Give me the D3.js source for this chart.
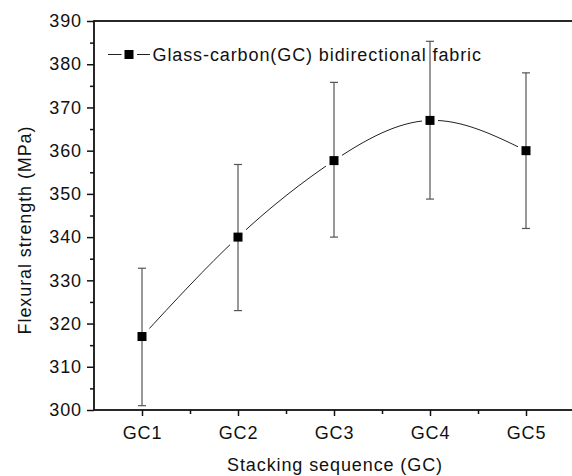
<!DOCTYPE html>
<html>
<head>
<meta charset="utf-8">
<script src="https://cdn.jsdelivr.net/npm/d3@7.9.0/dist/d3.min.js"></script>
<style>
  body { margin: 0; background: #fff; }
  svg { font-family: Arial, "Liberation Sans", sans-serif; }
  svg text { letter-spacing: 0.9px; }
  .axis text { font-size: 18px; fill: #111; }
  .axis line { stroke: #111; stroke-width: 1.5; }
  .axis path { display: none; }
</style>
</head>
<body>
<div id="chart"></div>
<script>
// data
const categories = ['GC1', 'GC2', 'GC3', 'GC4', 'GC5'];
const strength = [317, 340, 357.7, 367, 360];
const errLow = [301, 323, 340, 348.8, 342];
const errHigh = [332.8, 356.8, 375.8, 385.3, 378];
const yTicks = [300, 310, 320, 330, 340, 350, 360, 370, 380, 390];
const legendLabel = 'Glass-carbon(GC) bidirectional fabric';

const width = 572;
const height = 476;
const margin = { top: 21, right: -2, bottom: 66, left: 94 };

const svg = d3.select('#chart')
  .append('svg')
  .attr('width', width)
  .attr('height', height);

const points = categories.map((c, i) => ({
  name: c, idx: i + 1, value: strength[i], lo: errLow[i], hi: errHigh[i]
}));

const x = d3.scaleLinear()
  .domain([0.5, 5.5])
  .range([margin.left, width - margin.right]);

const y = d3.scaleLinear()
  .domain([300, 390])
  .range([height - margin.bottom, margin.top]);

// minor ticks (no labels)
svg.append('g')
  .attr('class', 'axis')
  .attr('transform', `translate(${margin.left},0)`)
  .call(d3.axisLeft(y).tickValues(yTicks.slice(0, -1).map(d => d + 5)).tickSize(4).tickFormat(''));

svg.append('g')
  .attr('class', 'axis')
  .attr('transform', `translate(0,${y(300)})`)
  .call(d3.axisBottom(x).tickValues([1.5, 2.5, 3.5, 4.5]).tickSize(4).tickFormat(''));

// major ticks
svg.append('g')
  .attr('class', 'axis')
  .attr('transform', `translate(${margin.left},0)`)
  .call(d3.axisLeft(y).tickValues(yTicks).tickSize(7).tickPadding(5));

svg.append('g')
  .attr('class', 'axis')
  .attr('transform', `translate(0,${y(300)})`)
  .call(d3.axisBottom(x).tickValues(points.map(d => d.idx)).tickSize(6).tickPadding(10)
    .tickFormat(d => categories[d - 1]));

// frame
svg.append('rect')
  .attr('x', margin.left)
  .attr('y', margin.top)
  .attr('width', x(5.5) - margin.left)
  .attr('height', y(300) - margin.top)
  .attr('fill', 'none')
  .attr('stroke', '#111')
  .attr('stroke-width', 1.8);

// smooth line
const line = d3.line()
  .x(d => x(d.idx))
  .y(d => y(d.value))
  .curve(d3.curveNatural);

svg.append('path')
  .datum(points)
  .attr('d', line)
  .attr('fill', 'none')
  .attr('stroke', '#222')
  .attr('stroke-width', 1);

// gaps in the line around each symbol
svg.append('g')
  .selectAll('rect')
  .data(points)
  .join('rect')
  .attr('x', d => x(d.idx) - 8)
  .attr('y', d => y(d.value) - 8)
  .attr('width', 16)
  .attr('height', 16)
  .attr('fill', '#fff');

// error bars
const eb = svg.append('g')
  .attr('stroke', '#555')
  .attr('stroke-width', 1.2);

eb.selectAll('line.v')
  .data(points)
  .join('line')
  .attr('class', 'v')
  .attr('x1', d => x(d.idx))
  .attr('x2', d => x(d.idx))
  .attr('y1', d => y(d.lo))
  .attr('y2', d => y(d.hi));

eb.selectAll('line.cap-hi')
  .data(points)
  .join('line')
  .attr('class', 'cap-hi')
  .attr('x1', d => x(d.idx) - 4)
  .attr('x2', d => x(d.idx) + 4)
  .attr('y1', d => y(d.hi))
  .attr('y2', d => y(d.hi));

eb.selectAll('line.cap-lo')
  .data(points)
  .join('line')
  .attr('class', 'cap-lo')
  .attr('x1', d => x(d.idx) - 4)
  .attr('x2', d => x(d.idx) + 4)
  .attr('y1', d => y(d.lo))
  .attr('y2', d => y(d.lo));

// symbols
svg.append('g')
  .selectAll('rect')
  .data(points)
  .join('rect')
  .attr('x', d => x(d.idx) - 4.5)
  .attr('y', d => y(d.value) - 4.5)
  .attr('width', 9)
  .attr('height', 9)
  .attr('fill', '#000');

// legend
const lg = svg.append('g').attr('transform', 'translate(108,54.5)');
lg.append('line').attr('x1', 0).attr('x2', 13.5).attr('stroke', '#222').attr('stroke-width', 1);
lg.append('line').attr('x1', 29).attr('x2', 42).attr('stroke', '#222').attr('stroke-width', 1);
lg.append('rect').attr('x', 16.5).attr('y', -4.5).attr('width', 9).attr('height', 9).attr('fill', '#000');
lg.append('text')
  .attr('x', 44.5)
  .attr('y', 6)
  .attr('font-size', 18)
  .attr('fill', '#111')
  .text(legendLabel);

// axis titles
svg.append('text')
  .attr('x', 335)
  .attr('y', 471)
  .attr('text-anchor', 'middle')
  .attr('font-size', 18)
  .attr('fill', '#111')
  .text('Stacking sequence (GC)');

svg.append('text')
  .attr('transform', 'translate(31,230) rotate(-90)')
  .attr('text-anchor', 'middle')
  .attr('font-size', 18)
  .attr('fill', '#111')
  .text('Flexural strength (MPa)');
</script>
</body>
</html>
